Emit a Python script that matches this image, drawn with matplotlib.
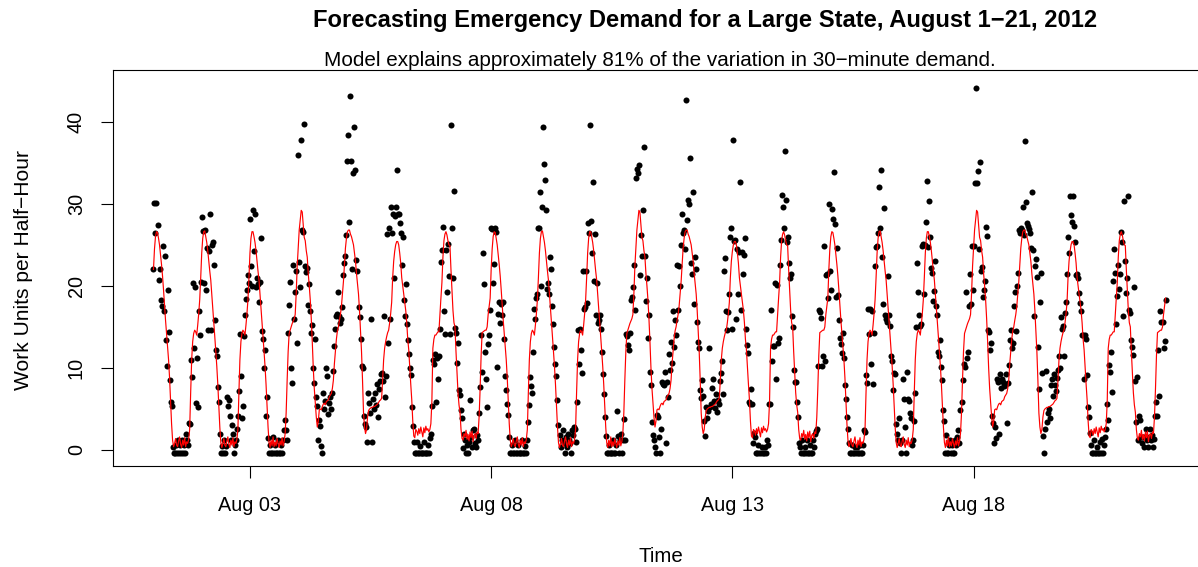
import numpy as np
import pandas as pd
import matplotlib
matplotlib.use("Agg")
import matplotlib.pyplot as plt
import matplotlib.dates as mdates

plt.rcParams['font.family'] = ['Liberation Sans', 'DejaVu Sans']

# observed work units per half-hour, one list per day (48 half-hours)
aug01 = [22.0, 30.1, 26.4, 30.1, 27.4, 20.7, 22.0, 18.3, 17.5, 24.8, 16.9, 23.6, 13.4, 10.2, 19.5, 14.4, 8.5, 5.9, 5.3, 0.4, -0.4, -0.4, 0.6, -0.4, 1.2, -0.4, 0.6, -0.4, 1.2, -0.4, 0.6, -0.4, 2.0, 1.2, 0.6, 3.3, 3.2, 11.0, 8.9, 20.3, 12.4, 19.8, 5.7, 11.2, 5.2, 16.9, 14.0, 20.5]
aug02 = [28.4, 26.7, 20.3, 26.8, 19.5, 24.6, 14.6, 24.2, 28.8, 14.6, 25.0, 25.4, 22.6, 15.8, 12.2, 11.4, 7.7, 5.9, 1.9, -0.4, 0.5, -0.4, 1.2, -0.4, 0.5, 6.5, 5.3, 6.1, 4.1, 1.2, 3.1, 1.9, -0.4, 0.6, 1.2, 2.5, 4.1, 7.2, 14.1, 9.0, 3.9, 5.3, 13.9, 16.5, 18.4, 19.5, 21.3, 20.4]
aug03 = [28.2, 22.4, 20.0, 29.2, 24.3, 28.8, 19.8, 21.0, 20.2, 18.0, 20.5, 25.8, 14.5, 13.5, 10.0, 12.2, 4.1, 6.5, 1.5, -0.4, 0.6, -0.4, -0.4, 1.6, -0.4, 0.6, -0.4, -0.4, 1.2, -0.4, -0.4, 0.6, -0.4, 1.2, 2.4, 3.7, 2.4, 1.2, 14.2, 17.7, 20.5, 10.0, 8.2, 22.6, 16.0, 19.2, 21.8, 13.0]
aug04 = [36.0, 22.9, 19.8, 37.8, 26.8, 26.6, 39.7, 22.4, 21.7, 22.2, 17.7, 20.2, 16.9, 14.2, 15.2, 10.0, 8.2, 13.5, 6.5, 5.3, 1.2, 3.7, 2.9, 0.5, -0.4, 6.9, 5.0, 6.0, 10.0, 9.0, 4.4, 5.7, 6.4, 5.0, 6.9, 9.6, 12.7, 14.7, 16.3, 16.6, 19.2, 16.3, 15.5, 16.0, 17.4, 21.3, 22.8, 23.6]
aug05 = [26.2, 35.2, 38.4, 27.8, 43.1, 35.2, 22.0, 33.8, 39.4, 34.1, 23.2, 21.8, 17.4, 16.2, 13.5, 10.2, 10.0, 4.1, 3.2, 2.8, 1.0, 6.9, 5.7, 4.5, 16.0, 1.0, 6.2, 5.0, 6.9, 5.5, 8.1, 4.0, 7.4, 8.4, 9.2, 9.4, 8.4, 16.3, 6.5, 9.0, 26.3, 13.0, 27.0, 16.0, 29.6, 26.5, 28.8, 21.0]
aug06 = [28.5, 29.6, 34.1, 28.8, 28.7, 27.6, 26.5, 22.6, 25.9, 18.3, 16.3, 20.2, 15.4, 13.4, 11.7, 10.0, 9.1, 5.2, 2.9, 1.0, -0.4, -0.4, 1.0, -0.4, -0.4, 0.5, -0.4, -0.4, -0.4, 1.0, -0.4, -0.4, -0.4, 0.6, -0.4, 1.5, 2.0, 5.3, 11.0, 10.5, 11.7, 5.9, 11.2, 8.6, 11.5, 14.8, 22.9, 24.4]
aug07 = [27.2, 16.9, 14.1, 24.4, 19.2, 25.1, 21.2, 14.1, 39.6, 27.1, 21.0, 31.6, 14.9, 14.3, 10.6, 13.0, 7.3, 6.7, 4.9, 3.9, 0.2, 2.0, 1.2, -0.4, 0.6, -0.4, 1.0, 6.1, 1.6, 0.4, 2.4, 2.6, 0.8, 0.4, 1.8, 1.2, 4.5, 7.7, 14.0, 9.5, 24.0, 20.2, 12.0, 8.7, 5.2, 12.9, 14.0, 17.0]
aug08 = [27.1, 26.9, 20.4, 22.7, 27.0, 26.6, 10.1, 16.6, 18.0, 15.5, 17.8, 16.4, 18.0, 13.5, 9.0, 7.3, 5.6, 4.3, 1.6, -0.4, -0.4, 0.6, -0.4, -0.4, 1.2, -0.4, -0.4, 0.6, -0.4, -0.4, -0.4, 1.2, -0.4, -0.4, 0.5, -0.4, 1.2, 3.4, 5.5, 8.9, 7.8, 7.0, 12.0, 17.2, 16.0, 18.5, 19.0, 27.0]
aug09 = [27.0, 31.4, 20.0, 29.6, 39.4, 34.8, 32.9, 29.2, 19.6, 20.4, 19.0, 23.5, 22.0, 17.6, 15.3, 12.5, 10.5, 9.0, 6.1, 3.0, 1.8, 0.4, 1.2, 2.4, 0.8, -0.4, 1.6, 0.4, 2.0, 1.2, 0.8, -0.4, 2.4, 1.8, 2.8, 2.6, 1.0, 5.8, 14.6, 10.5, 14.7, 12.2, 9.4, 21.8, 17.2, 17.4, 21.8, 17.9]
aug10 = [27.6, 26.5, 39.6, 27.9, 24.0, 32.6, 20.6, 26.3, 16.5, 20.4, 15.5, 15.8, 16.5, 14.8, 12.0, 9.3, 6.8, 4.0, 1.7, -0.4, -0.4, 0.6, -0.4, -0.4, -0.4, 1.2, -0.4, -0.4, 0.6, 4.7, 1.7, -0.4, 1.2, 2.0, -0.4, 1.2, 3.8, 1.2, 14.1, 13.9, 12.8, 12.2, 14.2, 18.3, 18.7, 19.9, 22.5, 17.0]
aug11 = [33.2, 34.2, 33.7, 34.7, 21.3, 26.2, 23.6, 29.3, 36.9, 23.6, 18.2, 21.0, 13.7, 16.5, 9.5, 7.9, 3.4, 1.8, 1.2, 0.4, -0.4, 4.3, 4.0, 1.6, -0.4, 2.5, 8.3, 8.0, 7.9, 9.5, 0.8, 8.3, 6.5, 11.7, 9.8, 13.1, 10.6, 16.9, 12.5, 15.9, 14.0, 22.6, 17.0, 22.4, 20.0, 25.0, 28.7, 26.4]
aug12 = [26.8, 24.5, 42.6, 28.0, 30.5, 30.0, 35.6, 22.8, 21.5, 31.4, 17.8, 23.5, 22.1, 15.6, 13.1, 12.4, 7.3, 6.3, 8.5, 6.6, 3.5, 1.7, 5.2, 3.9, 4.7, 12.4, 5.2, 5.6, 7.5, 8.7, 6.0, 5.1, 6.8, 4.6, 6.1, 5.6, 8.4, 9.4, 10.8, 6.8, 21.8, 23.4, 16.9, 14.6, 16.8, 19.0, 26.0, 27.0]
aug13 = [14.8, 37.8, 25.5, 25.6, 16.0, 24.5, 19.0, 24.1, 32.7, 17.0, 24.1, 21.4, 23.7, 25.8, 14.8, 12.8, 11.8, 5.8, 5.6, 7.4, 5.6, 0.9, 2.1, 1.6, -0.4, -0.4, 0.6, -0.4, -0.4, 0.4, -0.4, -0.4, 0.4, -0.4, 1.2, 0.6, 5.6, 5.6, 17.1, 10.8, 12.7, 12.7, 20.3, 8.7, 20.1, 13.0, 13.7, 22.6]
aug14 = [25.6, 31.1, 29.6, 27.0, 36.4, 30.4, 25.3, 26.0, 22.8, 21.0, 21.5, 16.3, 15.0, 9.8, 8.3, 8.3, 5.8, 4.0, 0.9, 0.4, -0.4, 1.2, -0.4, -0.4, 0.4, -0.4, 1.2, -0.4, -0.4, 0.6, -0.4, -0.4, 1.2, 0.4, 2.0, 2.3, 2.6, 10.2, 17.1, 16.8, 16.1, 10.2, 11.4, 24.9, 10.9, 21.3, 21.5, 18.5]
aug15 = [30.0, 21.8, 19.5, 29.4, 28.1, 33.9, 27.5, 18.6, 24.6, 18.9, 15.9, 13.7, 12.9, 11.8, 14.3, 11.2, 7.9, 6.2, 4.0, 2.6, 0.9, -0.4, -0.4, 0.6, -0.4, -0.4, 0.4, -0.4, 0.4, -0.4, -0.4, 0.6, -0.4, -0.4, 0.6, 2.4, 2.2, 9.1, 8.2, 17.2, 14.1, 17.2, 10.5, 16.9, 8.1, 14.3, 22.4, 24.7]
aug16 = [24.8, 26.4, 32.0, 27.0, 34.1, 23.5, 17.8, 29.5, 16.4, 16.0, 15.6, 21.2, 16.4, 15.1, 11.4, 10.8, 7.3, 9.4, 9.2, 3.2, 2.0, 1.2, 3.9, 0.9, -0.4, 1.2, 8.7, 6.2, 2.8, -0.4, 9.5, 6.2, 6.0, 4.5, 3.9, 0.6, 1.2, 3.5, 7.0, 15.0, 22.8, 19.2, 16.4, 15.1, 15.3, 24.9, 25.1, 19.0]
aug17 = [25.0, 27.8, 32.8, 24.7, 30.3, 26.0, 22.2, 21.6, 18.1, 19.4, 23.0, 17.6, 16.5, 12.0, 11.5, 13.4, 10.1, 8.5, 4.9, 3.5, -0.4, 1.8, -0.4, -0.4, 0.6, 1.2, -0.4, 0.6, -0.4, -0.4, 1.2, 0.6, 1.6, 2.4, 0.8, 4.9, 5.8, 8.5, 10.5, 10.1, 19.3, 11.2, 12.0, 17.6, 21.4, 17.8, 24.8, 19.5]
aug18 = [24.8, 32.5, 44.1, 32.5, 34.0, 24.5, 35.1, 21.8, 22.3, 18.7, 19.5, 20.6, 27.2, 26.1, 14.6, 14.4, 12.2, 13.0, 4.1, 3.3, 0.9, 2.8, 1.5, 8.7, 8.3, 2.0, 9.3, 7.5, 8.7, 8.3, 7.8, 7.9, 9.3, 3.3, 8.2, 10.4, 13.4, 14.6, 12.4, 13.0, 17.5, 19.2, 14.5, 20.0, 21.6, 26.8, 26.5, 27.0]
aug19 = [26.8, 29.6, 26.2, 37.6, 30.2, 27.6, 27.3, 26.9, 26.5, 24.6, 31.4, 24.4, 16.3, 22.4, 23.3, 21.1, 12.5, 7.4, 18.0, 21.6, 9.4, 1.7, -0.4, 2.6, 9.6, 3.4, 4.5, 5.0, 3.9, 7.9, 8.7, 6.6, 9.2, 7.9, 7.2, 8.8, 9.8, 11.4, 10.0, 16.2, 14.8, 15.1, 11.4, 16.7, 18.0, 21.5, 26.0, 24.0]
aug20 = [30.9, 28.6, 27.8, 30.9, 27.3, 25.4, 21.3, 21.5, 21.0, 19.1, 17.9, 16.9, 14.0, 14.0, 8.7, 14.0, 13.5, 9.1, 5.2, 4.0, 2.1, 0.6, -0.4, -0.4, 1.2, -0.4, -0.4, 0.4, -0.4, -0.4, 1.0, -0.4, 1.4, -0.4, 0.6, 1.6, 2.6, 5.6, 3.6, 10.3, 9.5, 12.0, 7.1, 20.6, 24.5, 21.6, 15.4, 18.8]
aug21 = [22.5, 19.6, 21.5, 26.6, 25.4, 16.3, 30.3, 23.0, 19.1, 21.0, 30.9, 17.0, 16.7, 13.4, 12.6, 11.6, 19.9, 8.4, 3.4, 8.9, 1.2, 4.2, 3.6, 1.6, 0.8, 1.6, 0.4, 1.6, 2.6, 1.2, 0.4, 1.6, 2.6, 1.2, 1.8, 0.4, 1.4, 4.2, 5.9, 4.1, 12.2, 6.6, 16.9, 15.6, 15.6, 12.4, 13.3, 18.3]

# model fit, one list per weekday (the fit repeats week to week)
fit_wed = [22.0, 24.5, 26.0, 26.6, 26.5, 25.8, 25.0, 23.8, 22.6, 21.2, 19.5, 17.6, 15.8, 14.2, 12.6, 11.0, 8.8, 6.0, 3.2, 1.2, 0.4, 0.8, 1.4, 0.6, 0.4, 1.1, 1.6, 0.7, 0.3, 1.2, 0.6, 1.5, 0.4, 1.0, 0.8, 1.3, 2.5, 7.0, 11.0, 13.2, 14.2, 14.6, 14.4, 14.0, 15.2, 16.6, 18.3, 21.0]
fit_thu = [24.0, 25.8, 26.6, 26.7, 26.0, 25.3, 24.3, 23.0, 21.8, 20.7, 19.0, 17.2, 15.5, 13.8, 12.0, 10.2, 8.0, 5.5, 2.8, 0.9, 0.3, 0.8, 1.4, 0.6, 0.4, 1.1, 1.6, 0.7, 0.3, 1.2, 0.6, 1.5, 0.4, 1.0, 0.8, 1.3, 2.5, 7.0, 11.0, 13.2, 14.2, 14.6, 14.4, 14.0, 15.2, 16.6, 18.3, 21.0]
fit_fri = [24.0, 25.8, 26.6, 26.6, 26.0, 25.3, 24.3, 23.0, 21.8, 20.7, 19.0, 17.2, 15.5, 13.8, 12.0, 10.2, 8.0, 5.5, 2.8, 0.9, 0.3, 1.2, 0.5, 1.6, 0.4, 1.0, 0.5, 1.4, 0.8, 0.3, 1.1, 0.6, 1.5, 0.5, 1.0, 2.0, 4.5, 8.5, 12.0, 14.2, 14.6, 15.0, 15.4, 15.7, 16.0, 16.5, 19.0, 22.4]
fit_sat = [24.5, 26.8, 28.0, 29.2, 29.0, 27.5, 25.9, 25.5, 24.3, 23.5, 21.5, 20.0, 18.3, 16.0, 13.2, 10.0, 7.5, 5.8, 4.0, 2.8, 3.5, 4.9, 5.0, 4.9, 5.3, 5.6, 5.7, 5.5, 5.9, 6.0, 6.1, 6.5, 6.7, 6.9, 7.5, 8.5, 10.5, 12.0, 13.5, 14.5, 15.0, 15.8, 16.5, 17.5, 19.0, 20.5, 22.5, 24.6]
fit_sun = [25.8, 26.6, 26.8, 26.8, 26.3, 26.0, 25.5, 25.0, 24.0, 23.0, 21.5, 20.2, 19.0, 17.0, 14.5, 12.0, 8.5, 4.5, 2.8, 2.0, 2.5, 4.0, 4.8, 5.0, 5.1, 5.2, 5.2, 5.3, 5.3, 5.4, 5.5, 5.6, 5.8, 6.0, 6.1, 6.3, 8.5, 11.0, 12.4, 13.2, 13.8, 14.3, 14.6, 15.5, 16.6, 18.0, 21.0, 23.0]
fit_mon = [24.2, 25.0, 25.4, 25.4, 25.0, 24.0, 22.8, 21.0, 20.0, 19.0, 18.0, 17.0, 15.5, 13.5, 12.2, 10.0, 8.0, 6.1, 3.5, 1.7, 1.5, 2.5, 2.3, 1.8, 2.6, 2.0, 2.8, 2.2, 1.6, 2.7, 2.1, 2.9, 2.4, 2.6, 2.2, 2.5, 3.2, 5.9, 12.4, 13.5, 14.0, 14.0, 14.2, 14.4, 14.4, 16.5, 18.5, 20.4]
fit_tue = [23.5, 25.5, 26.3, 26.6, 26.2, 25.5, 25.0, 24.9, 22.0, 19.5, 17.0, 15.5, 15.0, 12.0, 9.5, 7.0, 5.5, 4.6, 2.5, 1.4, 1.2, 2.0, 1.6, 2.4, 1.3, 1.9, 1.1, 2.2, 1.5, 2.3, 1.0, 1.8, 2.0, 1.4, 2.2, 2.0, 4.0, 7.4, 11.5, 14.3, 14.4, 14.5, 14.6, 14.6, 15.0, 16.5, 17.5, 18.5]

tick_dates = ["2012-08-03", "2012-08-08", "2012-08-13", "2012-08-18"]
tick_labels = ["Aug 03", "Aug 08", "Aug 13", "Aug 18"]

observed = np.concatenate([aug01, aug02, aug03, aug04, aug05, aug06, aug07,
                           aug08, aug09, aug10, aug11, aug12, aug13, aug14,
                           aug15, aug16, aug17, aug18, aug19, aug20, aug21])
week_fit = np.concatenate([fit_wed, fit_thu, fit_fri, fit_sat, fit_sun, fit_mon, fit_tue])
fitted = np.tile(week_fit, 3)

times = pd.date_range("2012-08-01 00:00", periods=len(observed), freq="30min")
xnum = mdates.date2num(times)

fig = plt.figure(figsize=(11.98, 5.67), dpi=100)
ax = fig.add_axes([113/1198, 1 - 466/567, (1206 - 113)/1198, (466 - 70)/567])

ax.scatter(xnum, observed, s=19, c="black", linewidths=0, zorder=2)
ax.plot(xnum, fitted, color="red", lw=0.85, zorder=3)

pad = 0.04 * (xnum[-1] - xnum[0])
ax.set_xlim(xnum[0] - pad, xnum[-1] + pad)
ax.set_ylim(-1.95, 46.3)

ax.set_xticks(mdates.date2num(pd.to_datetime(tick_dates)))
ax.set_xticklabels(tick_labels)
ax.set_yticks([0, 10, 20, 30, 40])
ax.set_yticklabels(["0", "10", "20", "30", "40"], rotation=90, va="center")

ax.tick_params(axis="both", direction="out", length=8.5, width=0.8, labelsize=14.3, colors="black")
ax.tick_params(axis="x", pad=13)
ax.tick_params(axis="y", pad=11)
for s in ax.spines.values():
    s.set_linewidth(0.8)

fig.text(705/1198, 1 - 20/567, "Forecasting Emergency Demand for a Large State, August 1\u221221, 2012",
         ha="center", va="center", fontsize=17.1, fontweight="bold")
fig.text(660/1198, 1 - 61/567, "Model explains approximately 81% of the variation in 30\u2212minute demand.",
         ha="center", va="center", fontsize=14.85)
fig.text(24/1198, 1 - 270/567, "Work Units per Half\u2212Hour", rotation=90, ha="center", va="center", fontsize=15.1)
fig.text(661/1198, 1 - 557/567, "Time", ha="center", va="center", fontsize=14.8)

fig.savefig("out.png", dpi=100)
